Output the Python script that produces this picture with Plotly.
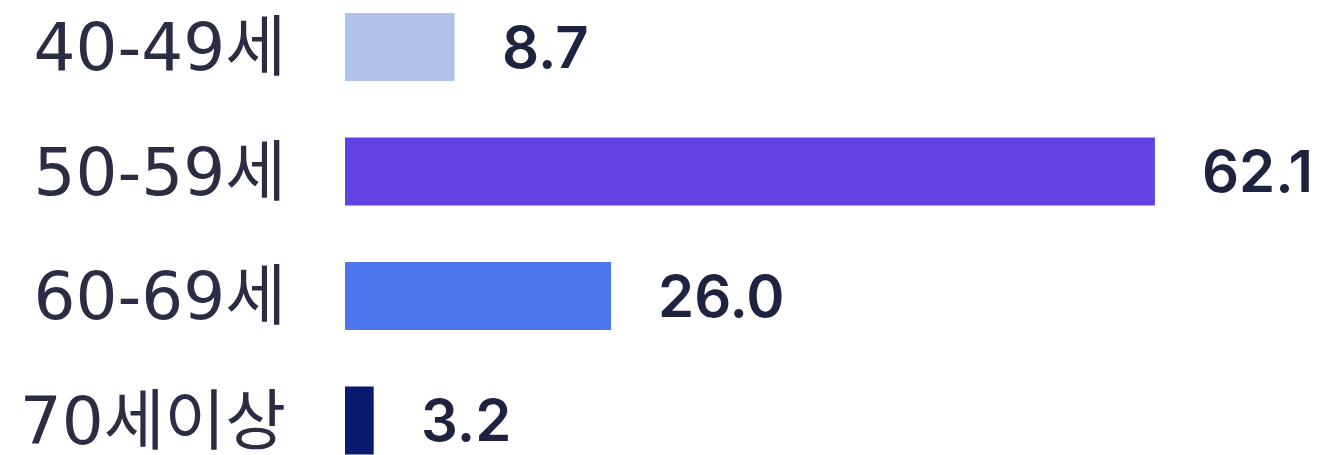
import plotly.graph_objects as go

# Возрастные группы и значения
categories = ["40-49세", "50-59세", "60-69세", "70세이상"]
bar_lengths = [8.4, 62.1, 20.4, 2.2]      # длина полос, как на картинке
value_labels = ["8.7", "62.1", "26.0", "3.2"]
colors = ["#b0c2ea", "#6242e3", "#4c76ec", "#0a1a6e"]

fig = go.Figure()

fig.add_trace(go.Bar(
    x=bar_lengths,
    y=categories,
    orientation="h",
    marker=dict(color=colors, line=dict(width=0)),
    width=0.546,
    hoverinfo="skip",
))

# Подписи значений справа от полос
for cat, length, lab in zip(categories, bar_lengths, value_labels):
    fig.add_annotation(
        x=length, y=cat,
        text=lab,
        showarrow=False,
        xanchor="left",
        xshift=45,
        font=dict(family="Inter, Noto Sans CJK KR", size=58, color="#1e2340", weight=600),
    )

fig.update_layout(
    width=1323, height=455,
    margin=dict(l=337, r=0, t=0, b=0),
    plot_bgcolor="white",
    paper_bgcolor="white",
    showlegend=False,
    xaxis=dict(range=[0, 75.6], visible=False, showgrid=False, zeroline=False),
    yaxis=dict(
        type="category",
        categoryorder="array",
        categoryarray=categories,
        range=[3.342, -0.313],
        showgrid=False,
        zeroline=False,
        showline=False,
        ticks="",
        ticklabelstandoff=58,
        tickfont=dict(family="DejaVu Sans, Noto Sans CJK KR", size=66, color="#2b2d45"),
    ),
)

fig.write_html("out.html")
